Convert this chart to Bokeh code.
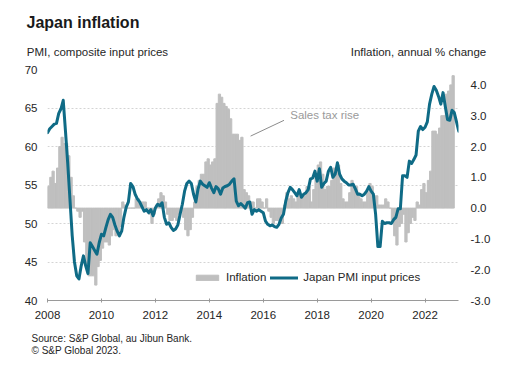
import numpy as np
import pandas as pd
from bokeh.plotting import figure
from bokeh.models import (Range1d, LinearAxis, FixedTicker, NumeralTickFormatter,
                          Legend, LegendItem, Label, ColumnDataSource, Title)
from bokeh.embed import file_html
from bokeh.resources import INLINE

# ---------------- data ----------------
pmi_start = "2008-01"
pmi_input_prices = [
    61.8, 62.3, 62.6, 62.9, 63.0, 64.3, 64.9, 66.0, 62.0, 57.8, 53.1, 48.4,   # 2008
    45.0, 43.2, 42.8, 44.5, 45.8, 44.5, 43.5, 47.5, 47.0, 46.5, 46.0, 47.5,   # 2009
    48.6, 48.4, 49.5, 50.5, 51.2, 50.8, 49.8, 49.0, 48.4, 49.0, 50.8, 52.1,   # 2010
    52.8, 55.2, 54.8, 53.8, 53.2, 52.8, 52.2, 51.6, 51.8, 51.4, 51.8, 51.0,   # 2011
    52.0, 52.5, 52.3, 52.7, 50.8, 49.9, 50.1, 49.5, 49.1, 49.3, 49.8, 51.2,   # 2012
    52.5, 54.2, 55.2, 55.5, 55.2, 53.8, 52.8, 54.5, 55.5, 55.1, 54.9, 54.7,   # 2013
    55.3, 54.6, 54.0, 54.8, 54.5, 53.8, 54.6, 54.8, 54.9, 55.1, 55.5, 55.8,   # 2014
    52.9, 52.3, 52.6, 52.3, 52.0, 52.7, 52.8, 51.2, 51.8, 51.6, 51.8, 51.6,   # 2015
    51.4, 50.3, 49.9, 49.7, 49.8, 49.6, 49.5, 49.9, 50.7, 51.2, 52.9, 54.0,   # 2016
    54.7, 54.4, 54.0, 53.6, 54.4, 53.4, 53.8, 54.0, 54.4, 55.8, 55.9, 56.8,   # 2017
    55.5, 57.1, 54.7, 55.2, 55.5, 56.8, 57.3, 56.0, 56.4, 57.9, 56.4, 55.8,   # 2018
    55.5, 55.3, 55.0, 55.0, 55.1, 54.5, 53.8, 53.8, 53.6, 53.8, 54.2, 54.8,   # 2019
    54.2, 53.8, 51.2, 47.0, 47.0, 50.3, 50.0, 50.1, 50.1, 50.0, 50.5, 50.8,   # 2020
    51.9, 51.9, 56.2, 56.2, 56.0, 58.1, 57.8, 58.3, 58.9, 62.0, 62.6, 62.2,   # 2021
    62.5, 63.2, 65.5, 66.8, 67.8, 67.3, 66.5, 65.5, 67.0, 65.2, 63.5, 63.4,   # 2022
    64.7, 64.4, 63.2, 62.0,                                                   # 2023
]

cpi_start = "2008-01"
cpi_inflation = [
    0.7, 1.0, 1.2, 0.8, 1.3, 2.0, 2.3, 2.1, 2.1, 1.7, 1.0, 0.4,          # 2008
    0.0, -0.1, -0.3, -0.1, -1.1, -1.8, -2.2, -2.2, -2.2, -2.5, -1.9, -1.7,  # 2009
    -1.3, -1.1, -1.1, -1.2, -0.9, -0.7, -0.9, -0.9, -0.6, 0.2, 0.1, 0.0,  # 2010
    0.0, 0.0, 0.0, 0.3, 0.3, 0.2, 0.2, 0.2, 0.0, -0.2, -0.5, -0.2,        # 2011
    0.1, 0.3, 0.5, 0.4, 0.2, -0.2, -0.4, -0.4, -0.3, -0.4, -0.2, -0.1,    # 2012
    -0.3, -0.7, -0.9, -0.7, -0.3, 0.2, 0.7, 0.9, 1.1, 1.1, 1.5, 1.6,      # 2013
    1.4, 1.5, 1.6, 3.4, 3.7, 3.6, 3.4, 3.3, 3.2, 2.9, 2.4, 2.4,           # 2014
    2.4, 2.2, 2.3, 0.6, 0.5, 0.4, 0.2, 0.2, 0.0, 0.3, 0.3, 0.2,           # 2015
    0.0, 0.3, -0.1, -0.3, -0.5, -0.4, -0.4, -0.5, -0.5, 0.1, 0.5, 0.3,    # 2016
    0.4, 0.3, 0.2, 0.4, 0.4, 0.4, 0.4, 0.7, 0.7, 0.2, 0.6, 1.0,           # 2017
    1.4, 1.5, 1.1, 0.6, 0.7, 0.7, 0.9, 1.3, 1.2, 1.4, 0.8, 0.3,           # 2018
    0.2, 0.2, 0.5, 0.9, 0.7, 0.7, 0.5, 0.3, 0.2, 0.2, 0.5, 0.8,           # 2019
    0.7, 0.4, 0.4, 0.1, 0.1, 0.1, 0.3, 0.2, 0.0, -0.4, -0.9, -1.2,        # 2020
    -0.6, -0.5, -0.2, -1.1, -0.8, -0.5, -0.3, -0.4, 0.2, 0.1, 0.6, 0.8,   # 2021
    0.5, 0.9, 1.2, 2.5, 2.5, 2.4, 2.6, 3.0, 3.0, 3.7, 3.8, 4.0,           # 2022
    4.3,                                                                  # 2023
]

pmi_ticks = [40, 45, 50, 55, 60, 65, 70]
infl_ticks = [-3, -2, -1, 0, 1, 2, 3, 4]
year_ticks = [2008, 2010, 2012, 2014, 2016, 2018, 2020, 2022]

title_text = "Japan inflation"
left_axis_title = "PMI, composite input prices"
right_axis_title = "Inflation, annual % change"
source_lines = ["Source: S&P Global, au Jibun Bank.", "\u00a9 S&P Global 2023."]
annotation_text = "Sales tax rise"

# ---------------- styling ----------------
FONT = "Liberation Sans"
TEXT = "#262626"
LINE_COLOR = "#0f6b86"
BAR_COLOR = "#bfbfbf"


def dec_year(start, n):
    d = pd.date_range(start, periods=n, freq="MS")
    return (d.year + (d.month - 1) / 12.0).to_numpy().astype(float)


pmi_t = dec_year(pmi_start, len(pmi_input_prices))
cpi_t = dec_year(cpi_start, len(cpi_inflation))

bar_src = ColumnDataSource(dict(x=cpi_t + 1 / 24, top=cpi_inflation))
line_src = ColumnDataSource(dict(x=pmi_t, y=pmi_input_prices))

p = figure(width=508, height=375, output_backend="svg", toolbar_location=None,
           x_range=Range1d(2008, 2023.24), y_range=Range1d(40, 70),
           min_border_left=47, min_border_right=50, min_border_top=68,
           min_border_bottom=75)
p.outline_line_color = None
p.background_fill_color = "white"
p.border_fill_color = "white"

p.extra_y_ranges = {"infl": Range1d(-3, 4.5)}
# pixel-like range used only to place the two header captions
p.extra_x_ranges = {"hdr": Range1d(47, 458)}

bars = p.vbar(x="x", top="top", bottom=0, width=1 / 12, source=bar_src,
              y_range_name="infl", fill_color=BAR_COLOR, line_color=BAR_COLOR,
              line_width=1.0)
line = p.line(x="x", y="y", source=line_src, line_color=LINE_COLOR,
              line_width=3, line_join="round", line_cap="round")

p.xaxis.ticker = FixedTicker(ticks=year_ticks)
p.xaxis.axis_line_color = "#9a9a9a"
p.xaxis.major_tick_line_color = "#9a9a9a"
p.xaxis.major_tick_in = 2
p.xaxis.major_tick_out = 2
p.xaxis.minor_tick_line_color = None
p.xaxis.major_label_standoff = 8

p.yaxis.ticker = FixedTicker(ticks=pmi_ticks)
p.yaxis.axis_line_color = None
p.yaxis.major_tick_line_color = None
p.yaxis.major_tick_in = 0
p.yaxis.major_tick_out = 0
p.yaxis.minor_tick_line_color = None
p.yaxis.major_label_standoff = 10

right = LinearAxis(y_range_name="infl", ticker=FixedTicker(ticks=infl_ticks),
                   formatter=NumeralTickFormatter(format="0.0"))
right.axis_line_color = None
right.major_tick_line_color = None
right.major_tick_in = 0
right.major_tick_out = 0
right.minor_tick_line_color = None
right.major_label_standoff = 12
p.add_layout(right, "right")

for ax in [p.xaxis[0], p.yaxis[0], right]:
    ax.major_label_text_font = FONT
    ax.major_label_text_font_size = "11.5px"
    ax.major_label_text_color = TEXT

p.xgrid.grid_line_color = None
p.ygrid.ticker = FixedTicker(ticks=pmi_ticks[1:])
p.ygrid.grid_line_color = "#d4d4d4"
p.ygrid.grid_line_dash = "2 2"
p.ygrid.grid_line_width = 1

legend = Legend(items=[LegendItem(label="Inflation", renderers=[bars]),
                       LegendItem(label="Japan PMI input prices", renderers=[line])],
                orientation="horizontal", location=(146, 17),
                padding=0, margin=0, spacing=4, label_standoff=5,
                glyph_width=28, glyph_height=7, label_height=12,
                border_line_color=None, background_fill_alpha=0,
                label_text_font=FONT, label_text_font_size="11.5px",
                label_text_color=TEXT)
p.add_layout(legend, "center")

ann_line_x = [2015.53, 2016.77]
ann_line_y = [61.35, 63.4]
p.add_layout(Label(x=2017.0, y=64.15, text=annotation_text, text_baseline="middle",
                   text_font=FONT, text_font_size="11.5px", text_color="#9a9a9a"))
seg_src = ColumnDataSource(dict(x0=[ann_line_x[0]], y0=[ann_line_y[0]],
                                x1=[ann_line_x[1]], y1=[ann_line_y[1]]))
p.segment(x0="x0", y0="y0", x1="x1", y1="y1", source=seg_src,
          line_color="#8c8c8c", line_width=1)

# ---------- header: axis captions (a label-only axis above the frame) ----------
hdr_pos = [97, 418]
hdr_axis = LinearAxis(x_range_name="hdr", ticker=FixedTicker(ticks=hdr_pos),
                      major_label_overrides={hdr_pos[0]: left_axis_title,
                                             hdr_pos[1]: right_axis_title})
hdr_axis.axis_line_color = None
hdr_axis.major_tick_line_color = None
hdr_axis.minor_tick_line_color = None
hdr_axis.major_tick_in = 0
hdr_axis.major_tick_out = 0
hdr_axis.major_label_standoff = 12
hdr_axis.major_label_text_font = FONT
hdr_axis.major_label_text_font_size = "11.5px"
hdr_axis.major_label_text_color = TEXT
p.add_layout(hdr_axis, "above")

# ---------- header: main title ----------
p.add_layout(Title(text=title_text, align="left", offset=-21, vertical_align="bottom",
                   standoff=23, text_font=FONT, text_font_size="16px",
                   text_font_style="bold", text_color="#1a1a1a"), "above")

# ---------- footer ----------
p.add_layout(Title(text="\n".join(source_lines), align="left", offset=-16,
                   vertical_align="top", standoff=22, text_font=FONT,
                   text_font_size="10px", text_font_style="normal",
                   text_line_height=1.13, text_color=TEXT), "below")

open("out.html", "w").write(file_html(p, INLINE))
